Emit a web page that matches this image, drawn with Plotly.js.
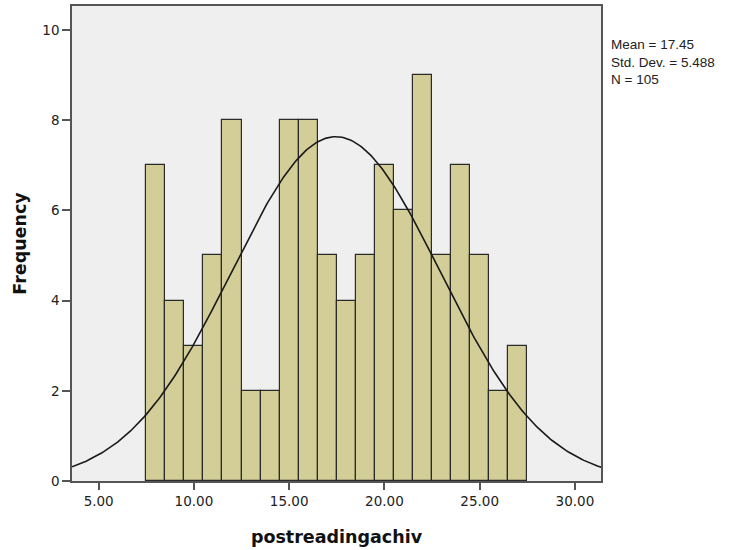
<!DOCTYPE html>
<html>
<head>
<meta charset="utf-8">
<script src="https://cdn.plot.ly/plotly-3.0.1.min.js"></script>
<style>html,body{margin:0;padding:0;background:#fff;}</style>
</head>
<body>
<div id="chart" style="width:730px;height:550px;"></div>
<script>
const binCenters = [8,9,10,11,12,13,14,15,16,17,18,19,20,21,22,23,24,25,26,27];
const frequencies = [7,4,3,5,8,2,2,8,8,5,4,5,7,6,9,5,7,5,2,3];
const xTickVals = [5,10,15,20,25,30];
const xTickText = ["5.00","10.00","15.00","20.00","25.00","30.00"];
const yTickVals = [0,2,4,6,8,10];
const statMean = 17.45;
const statSD = 5.488;
const statN = 105;
const binWidth = 1;

// normal curve from the displayed mean / SD / N
const curveX = [], curveY = [];
for (let i = 0; i <= 300; i++) {
  const x = 3.6 + (31.4 - 3.6) * i / 300;
  curveX.push(x);
  curveY.push(statN * binWidth / (statSD * Math.sqrt(2 * Math.PI)) * Math.exp(-0.5 * Math.pow((x - statMean) / statSD, 2)));
}

const traces = [
  {type:'bar', x: binCenters, y: frequencies, width: binWidth,
   marker:{color:'#d3ce97', line:{color:'#2a2a2a', width:1.2}}, hoverinfo:'x+y'},
  {type:'scatter', mode:'lines', x: curveX, y: curveY,
   line:{color:'#1a1a1a', width:1.6}, hoverinfo:'skip'}
];

const layout = {
  width:730, height:550,
  margin:{l:72, r:129, t:6, b:69},
  paper_bgcolor:'#ffffff', plot_bgcolor:'#efefef',
  showlegend:false, bargap:0,
  font:{family:'DejaVu Sans, sans-serif', size:13.5, color:'#222'},
  xaxis:{range:[3.6,31.37], tickvals:xTickVals, ticktext:xTickText,
    showgrid:false, zeroline:false, showline:true, linecolor:'#555', linewidth:1.5, mirror:true,
    ticks:'outside', ticklen:7, tickwidth:1.5, tickcolor:'#555',
    tickfont:{family:'DejaVu Sans, sans-serif', size:13.5, color:'#222'},
    title:{text:'<b>postreadingachiv</b>', font:{family:'DejaVu Sans, sans-serif', size:17.5, color:'#111'}, standoff:23}},
  yaxis:{range:[0,10.53], tickvals:yTickVals,
    showgrid:false, zeroline:false, showline:true, linecolor:'#555', linewidth:1.5, mirror:true,
    ticks:'outside', ticklen:8, tickwidth:1.5, tickcolor:'#555',
    tickfont:{family:'DejaVu Sans, sans-serif', size:13.5, color:'#222'},
    title:{text:'<b>Frequency</b>', font:{family:'DejaVu Sans, sans-serif', size:17.5, color:'#111'}, standoff:11}},
  annotations:[
    {xref:'paper', yref:'paper', x:1, xanchor:'left', xshift:8, y:1, yshift:-29, yanchor:'top',
     align:'left', showarrow:false,
     text:'Mean = ' + statMean.toFixed(2) + '<br>Std. Dev. = ' + statSD.toFixed(3) + '<br>N = ' + statN,
     font:{family:'Liberation Sans, Arial, sans-serif', size:13.5, color:'#222'}}
  ]
};

Plotly.newPlot('chart', traces, layout, {displayModeBar:false});
</script>
</body>
</html>
